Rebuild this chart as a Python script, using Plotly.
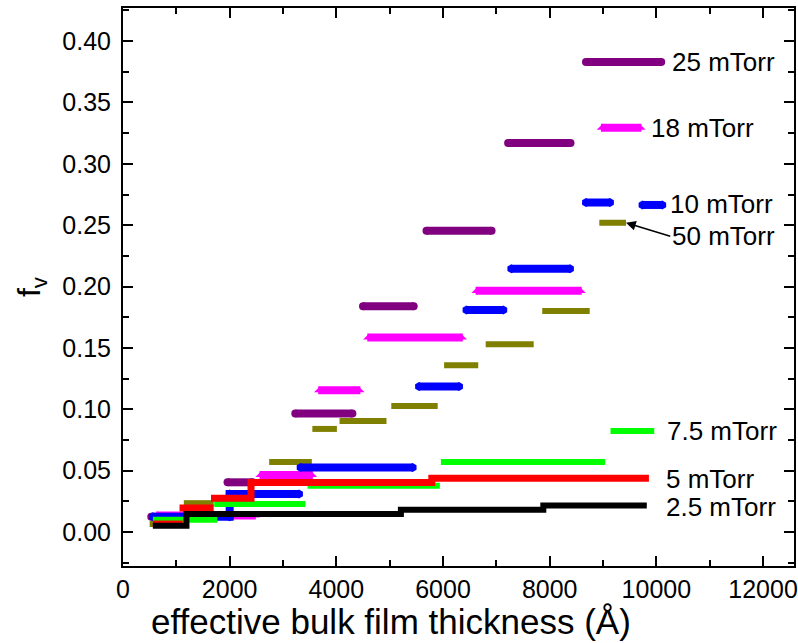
import plotly.graph_objects as go

# Segments: (thickness start, thickness end, f_v)
p25_start = [530, 1960, 3230, 4500, 5690, 7220, 8680]
p25_end   = [1190, 2430, 4300, 5450, 6910, 8390, 10090]
p25_fv    = [0.0125, 0.0405, 0.0965, 0.184, 0.2455, 0.317, 0.383]

p18_start = [620, 2560, 3660, 4580, 6610, 8960]
p18_end   = [2490, 3560, 4450, 6370, 8600, 9720]
p18_fv    = [0.0135, 0.0465, 0.1155, 0.1585, 0.1965, 0.3295]

p10_start = [560, 2000, 3330, 5550, 6440, 7280, 8680, 9740]
p10_end   = [2000, 3300, 5430, 6300, 7130, 8380, 9130, 10110]
p10_fv    = [0.0125, 0.031, 0.0525, 0.1185, 0.181, 0.2145, 0.2685, 0.2665]

p50_start = [500, 1140, 1940, 2740, 3550, 4060, 5030, 6020, 6800, 7860, 8930]
p50_end   = [1050, 1700, 2400, 3540, 4010, 4940, 5900, 6660, 7700, 8750, 9430]
p50_fv    = [0.0065, 0.0235, 0.0405, 0.057, 0.084, 0.0905, 0.1027, 0.1358, 0.153, 0.180, 0.252]

p75_start = [560, 1710, 3460, 5960, 9140]
p75_end   = [1770, 3420, 5940, 9040, 9960]
p75_fv    = [0.010, 0.0228, 0.0377, 0.057, 0.0824]

p5_start = [560, 1060, 1650, 2400, 5790]
p5_end   = [1120, 1700, 2400, 5790, 9860]
p5_fv    = [0.0065, 0.0195, 0.0276, 0.0404, 0.0439]

p25b_start = [560, 1190, 5210, 7880]
p25b_end   = [1190, 5210, 7880, 9820]
p25b_fv    = [0.005, 0.0146, 0.0181, 0.0217]

labels = ["25 mTorr", "18 mTorr", "10 mTorr", "50 mTorr", "7.5 mTorr", "5 mTorr", "2.5 mTorr"]
label_x = [10260, 9870, 10220, 10260, 10170, 10150, 10150]
label_y = [0.383, 0.329, 0.267, 0.241, 0.0824, 0.0435, 0.0205]

x_title = "effective bulk film thickness (Å)"
y_title = "f<sub>v</sub>"

FONT = "Liberation Sans, Arial, sans-serif"


def path(starts, ends, fvs):
    xs, ys = [], []
    for i, (s, e, f) in enumerate(zip(starts, ends, fvs)):
        if i > 0 and starts[i] == ends[i - 1]:
            xs += [s, e]
            ys += [f, f]
        else:
            if xs:
                xs.append(None)
                ys.append(None)
            xs += [s, e]
            ys += [f, f]
    return xs, ys


fig = go.Figure()


def caps(xs, ys, symbol, size, color):
    fig.add_trace(go.Scatter(x=xs, y=ys, mode="markers",
                             marker=dict(symbol=symbol, size=size, color=color,
                                         line=dict(width=0)),
                             hoverinfo="skip", showlegend=False))


def add_series(starts, ends, fvs, color, width, cap=None, capsize=None):
    xs, ys = path(starts, ends, fvs)
    fig.add_trace(go.Scatter(x=xs, y=ys, mode="lines",
                             line=dict(color=color, width=width),
                             hoverinfo="skip", showlegend=False))
    if cap == "round":
        caps(starts + ends, fvs + fvs, "circle", capsize, color)
    elif cap == "hex":
        caps(starts + ends, fvs + fvs, "hexagon", capsize, color)
    elif cap == "trap":
        caps(starts, fvs, "triangle-se", capsize, color)
        caps(ends, fvs, "triangle-sw", capsize, color)


add_series(p50_start, p50_end, p50_fv, "#808000", 6)
add_series(p25_start, p25_end, p25_fv, "#800080", 8, "round", 8)
add_series(p18_start, p18_end, p18_fv, "#FF00FF", 8, "trap", 7)
add_series(p10_start, p10_end, p10_fv, "#0000FF", 8, "hex", 9)
add_series(p75_start, p75_end, p75_fv, "#00FF00", 6)
add_series(p5_start, p5_end, p5_fv, "#FF0000", 7)
add_series(p25b_start, p25b_end, p25b_fv, "#000000", 6)

for i, (t, x, y) in enumerate(zip(labels, label_x, label_y)):
    if t == "50 mTorr":
        # label with arrow pointing to the last 50 mTorr segment
        fig.add_annotation(x=p50_end[-1], y=p50_fv[-1], ax=x, ay=y, axref="x", ayref="y",
                           text=t, showarrow=True, xanchor="left", yanchor="middle",
                           arrowhead=2, arrowsize=1.3, arrowwidth=1.5, arrowcolor="#000",
                           standoff=0, startstandoff=0,
                           font=dict(family=FONT, size=26, color="#000"))
    else:
        fig.add_annotation(x=x, y=y, text=t, showarrow=False, xanchor="left",
                           yanchor="middle", font=dict(family=FONT, size=26, color="#000"))

# axis titles
fig.add_annotation(xref="paper", yref="paper", x=0.4, y=-0.1, text=x_title,
                   showarrow=False, xanchor="center", yanchor="middle",
                   font=dict(family=FONT, size=35, color="#000"))
fig.add_annotation(xref="paper", yref="paper", x=-0.137, y=0.5, text=y_title,
                   showarrow=False, xanchor="center", yanchor="middle", textangle=-90,
                   font=dict(family=FONT, size=32, color="#000"))

axis_common = dict(showline=True, linecolor="#000", linewidth=2, mirror="ticks",
                   ticks="inside", ticklen=10, tickwidth=1.5, tickcolor="#000",
                   showgrid=False, zeroline=False, ticklabeloverflow="allow",
                   tickfont=dict(family=FONT, size=25, color="#000"))

fig.update_xaxes(range=[0, 12580], dtick=2000, tickformat="d",
                 minor=dict(dtick=1000, ticklen=6, tickwidth=1.5, tickcolor="#000", ticks="inside"),
                 **axis_common)
fig.update_yaxes(range=[-0.0277, 0.427], dtick=0.05, tickformat=".2f",
                 ticklabelstandoff=5,
                 minor=dict(dtick=0.025, ticklen=6, tickwidth=1.5, tickcolor="#000", ticks="inside"),
                 **axis_common)

fig.update_layout(width=798, height=643, margin=dict(l=123, r=0, t=8, b=77),
                  plot_bgcolor="white", paper_bgcolor="white",
                  font=dict(family=FONT, color="#000"))

fig.write_html("out.html")
